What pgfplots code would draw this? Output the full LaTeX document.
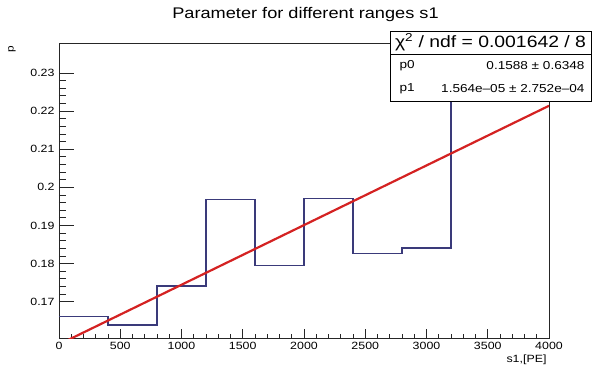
\documentclass[border=0pt]{standalone}
\usepackage{fontspec}
\setmainfont[FakeStretch=1.18]{Liberation Sans}
\usepackage{pgfplots}
\pgfplotsset{compat=1.18}
\definecolor{histc}{RGB}{58,58,122}
\definecolor{fitc}{RGB}{212,34,34}
\begin{document}
\begin{tikzpicture}[x=1bp,y=1bp]
\begin{axis}[
  at={(0,0)}, anchor=south west,
  scale only axis, width=490bp, height=295bp,
  xmin=0, xmax=4000, ymin=0.16048, ymax=0.23787,
  xtick={0,500,1000,1500,2000,2500,3000,3500,4000},
  xticklabels={0,500,1000,1500,2000,2500,3000,3500,4000},
  ytick={0.17,0.18,0.19,0.2,0.21,0.22,0.23},
  yticklabels={0.17,0.18,0.19,0.2,0.21,0.22,0.23},
  minor x tick num=4, minor y tick num=4,
  tick align=inside,
  xtick pos=bottom, ytick pos=left,
  major tick length=9bp, minor tick length=4.5bp,
  ytick style={/pgfplots/major tick length=14.5bp,/pgfplots/minor tick length=7bp},
  scaled x ticks=false, scaled y ticks=false,
  /pgf/number format/assume math mode=true,
  tick label style={font=\fontsize{10.5bp}{12bp}\selectfont},
  xticklabel style={yshift=-1bp},
  yticklabel style={xshift=-1bp},
  axis line style={line width=0.9bp, black!85},
  tick style={line width=0.8bp, black!85},
  clip=true,
]
\addplot[const plot, histc, line width=1.2bp, mark=none] coordinates {
  (0,0.1661) (400,0.1639) (800,0.1741) (1200,0.1969) (1600,0.1795)
  (2000,0.1970) (2400,0.1826) (2800,0.1841) (3200,0.2345) (3600,0.2300)
  (4000,0.2300)};
\addplot[fitc, line width=2.2bp, mark=none] coordinates {(0,0.1588) (4000,0.2214)};
\end{axis}
% title
\node[font=\fontsize{15.4bp}{17bp}\selectfont] at (246.5,323) {Parameter for different ranges s1};
% stats box
\draw[fill=white, line width=0.9bp] (331,307) rectangle (532,237);
\draw[line width=0.9bp] (331,284) -- (532,284);
\node[font=\fontsize{16.4bp}{18bp}\selectfont] at (431.5,295.5) {χ\textsuperscript{2} / ndf = 0.001642 / 8};
\node[anchor=west, font=\fontsize{11.5bp}{13bp}\selectfont] at (337,272) {p0};
\node[anchor=east, font=\fontsize{11.5bp}{13bp}\selectfont] at (529,272) {0.1588 ± 0.6348};
\node[anchor=west, font=\fontsize{11.5bp}{13bp}\selectfont] at (337,249) {p1};
\node[anchor=east, font=\fontsize{11.5bp}{13bp}\selectfont] at (529,249) {1.564e–05 ± 2.752e–04};
% axis labels
\node[rotate=90, anchor=east, font=\fontsize{10bp}{12bp}\selectfont] at (-47,296) {p};
\node[anchor=east, font=\fontsize{10.5bp}{12bp}\selectfont] at (491,-22) {s1,[PE]};
\pgfresetboundingbox
\useasboundingbox (-59,-29) rectangle (535,338);
\end{tikzpicture}
\end{document}
